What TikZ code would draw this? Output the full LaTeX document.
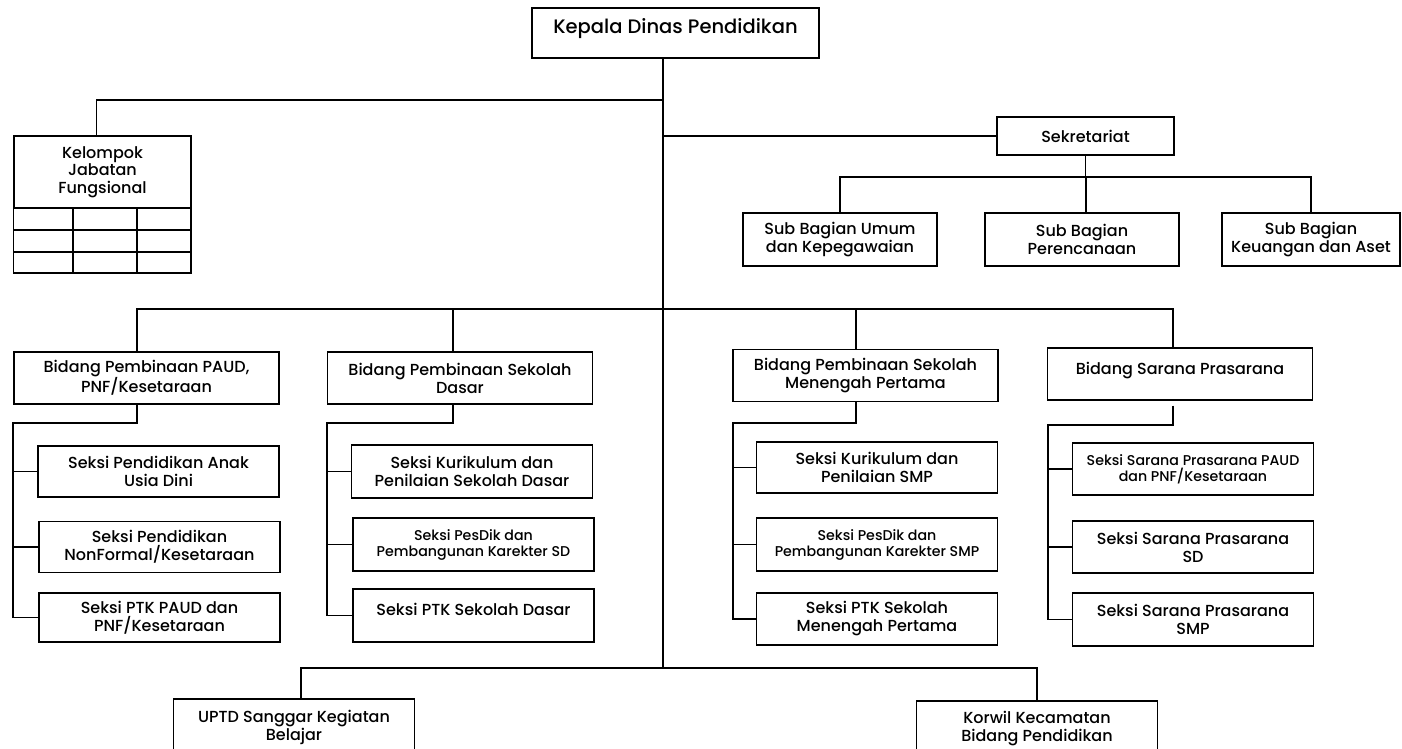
\documentclass[tikz,border=0pt]{standalone}
\usepackage{fontspec}
\setmainfont{Poppins}[UprightFont=* Medium]

\begin{document}
\begin{tikzpicture}[x=1pt,y=-1pt,
    box/.style={draw, line width=1.2pt, align=center, inner sep=1pt,
      font=\fontsize{16}{18}\selectfont},
    headbox/.style={box, minimum width=287pt, minimum height=50pt,
      text depth=14pt, font=\fontsize{19.5}{22}\selectfont},
    subbox/.style={box, minimum width=194pt, minimum height=53pt},
    bidbox/.style={box, minimum width=265pt, minimum height=52pt},
    seksibox/.style={box, minimum width=241pt, minimum height=51pt},
    smallfont/.style={font=\fontsize{14.2}{16}\selectfont},
    link/.style={line width=1.2pt}]

  \useasboundingbox (0,0) rectangle (1402,749);

  \node[headbox] (kadis) at (675.5,33) {Kepala Dinas Pendidikan};
  \coordinate (j1) at (663,100);
  \coordinate (j2) at (663,136);
  \coordinate (j3) at (663,309);
  \coordinate (j4) at (663,668);
  \draw[link] (kadis.south -| j4) -- (j4);

  % kelompok jabatan fungsional with its table
  \node[box, minimum width=177pt, minimum height=72pt, font=\fontsize{16}{17.5}\selectfont] (kjf) at (102.5,172) {Kelompok\\Jabatan\\Fungsional};
  \draw[link] (kjf.south west) rectangle (191,273);
  \foreach \y in {230,252}
    \draw[link] (14,\y) -- (191,\y);
  \draw[line width=2.2pt] (73,208) -- (73,273);
  \draw[link] (137,208) -- (137,273);
  \draw[link] ([xshift=-6pt]kjf.north) |- (j1);

  % sekretariat
  \node[box, minimum width=177pt, minimum height=38pt] (sekre) at (1085.5,136) {Sekretariat};
  \draw[link] (j2) -- (sekre.west);
  \node[subbox] (subum) at (840,239.5) {Sub Bagian Umum\\dan Kepegawaian};
  \node[subbox] (subren) at (1082,239.5) {Sub Bagian\\Perencanaan};
  \node[subbox, minimum width=178pt] (subkeu) at (1311,239.5) {Sub Bagian\\Keuangan dan Aset};
  \coordinate (sj) at (1085.5,177);
  \draw[link] (sekre.south) -- (sj);
  \draw[link] (subum.north) |- (sj) -| (subkeu.north);
  \draw[link] ([xshift=4pt]subren.north) -- ([xshift=4pt]subren.north |- sj);

  % bidang
  \node[bidbox] (bpaud) at (146.5,378) {Bidang Pembinaan PAUD,\\PNF/Kesetaraan};
  \node[bidbox] (bsd) at (460,378) {Bidang Pembinaan Sekolah\\Dasar};
  \node[bidbox] (bsmp) at (865.5,375.5) {Bidang Pembinaan Sekolah\\Menengah Pertama};
  \node[bidbox, text depth=12pt] (bsar) at (1180,374) {Bidang Sarana Prasarana};
  \draw[link] ([xshift=-9.5pt]bpaud.north) |- (j3) -| ([xshift=-7pt]bsar.north);
  \draw[link] ([xshift=-7pt]bsd.north) -- ([xshift=-7pt]bsd.north |- j3);
  \draw[link] ([xshift=-9.5pt]bsmp.north) -- ([xshift=-9.5pt]bsmp.north |- j3);

  % seksi PAUD
  \node[seksibox] (paud1) at (158.5,471.5) {Seksi Pendidikan Anak\\Usia Dini};
  \node[seksibox] (paud2) at (159.5,547) {Seksi Pendidikan\\NonFormal/Kesetaraan};
  \node[seksibox, minimum height=49pt] (paud3) at (159.5,617.5) {Seksi PTK PAUD dan\\PNF/Kesetaraan};
  \coordinate (bus1) at (13,423);
  \draw[link] ([xshift=-9.5pt]bpaud.south) |- (bus1) -- (bus1 |- paud3.west) -- (paud3.west);
  \foreach \s in {paud1,paud2}
    \draw[link] (bus1 |- \s.west) -- (\s.west);

  % seksi SD
  \node[seksibox, minimum height=53pt] (sd1) at (472,471.5) {Seksi Kurikulum dan\\Penilaian Sekolah Dasar};
  \node[seksibox, minimum height=53pt, smallfont] (sd2) at (473.5,544.5) {Seksi PesDik dan\\Pembangunan Karekter SD};
  \node[seksibox, minimum height=53pt, text depth=12pt] (sd3) at (473.5,615.5) {Seksi PTK Sekolah Dasar};
  \coordinate (bus2) at (327,423);
  \draw[link] ([xshift=-7pt]bsd.south) |- (bus2) -- (bus2 |- sd3.west) -- (sd3.west);
  \foreach \s in {sd1,sd2}
    \draw[link] (bus2 |- \s.west) -- (\s.west);

  % seksi SMP
  \node[seksibox] (smp1) at (877,467.5) {Seksi Kurikulum dan\\Penilaian SMP};
  \node[seksibox, minimum height=53pt, smallfont] (smp2) at (877,544.5) {Seksi PesDik dan\\Pembangunan Karekter SMP};
  \node[seksibox, minimum height=52pt] (smp3) at (877,619) {Seksi PTK Sekolah\\Menengah Pertama};
  \coordinate (bus3) at (733,423);
  \draw[link] ([xshift=-9.5pt]bsmp.south) |- (bus3) -- (bus3 |- smp3.west) -- (smp3.west);
  \foreach \s in {smp1,smp2}
    \draw[link] (bus3 |- \s.west) -- (\s.west);

  % seksi sarana prasarana
  \node[seksibox, minimum height=52pt, smallfont] (spr1) at (1193,469) {Seksi Sarana Prasarana PAUD\\dan PNF/Kesetaraan};
  \node[seksibox, minimum height=52pt] (spr2) at (1193,547) {Seksi Sarana Prasarana\\SD};
  \node[seksibox, minimum height=53pt] (spr3) at (1193,619.5) {Seksi Sarana Prasarana\\SMP};
  \coordinate (bus4) at (1048,425);
  \draw[link] ([xshift=-7pt,yshift=-5pt]bsar.south) |- (bus4) -- (bus4 |- spr3.west) -- (spr3.west);
  \foreach \s in {spr1,spr2}
    \draw[link] (bus4 |- \s.west) -- (\s.west);

  % UPTD and korwil
  \node[seksibox, minimum height=56pt] (uptd) at (294,727) {UPTD Sanggar Kegiatan\\Belajar};
  \node[seksibox, minimum height=56pt] (korwil) at (1037,729) {Korwil Kecamatan\\Bidang Pendidikan};
  \draw[link] ([xshift=7pt]uptd.north) |- (j4) -| (korwil.north);
\end{tikzpicture}
\end{document}
